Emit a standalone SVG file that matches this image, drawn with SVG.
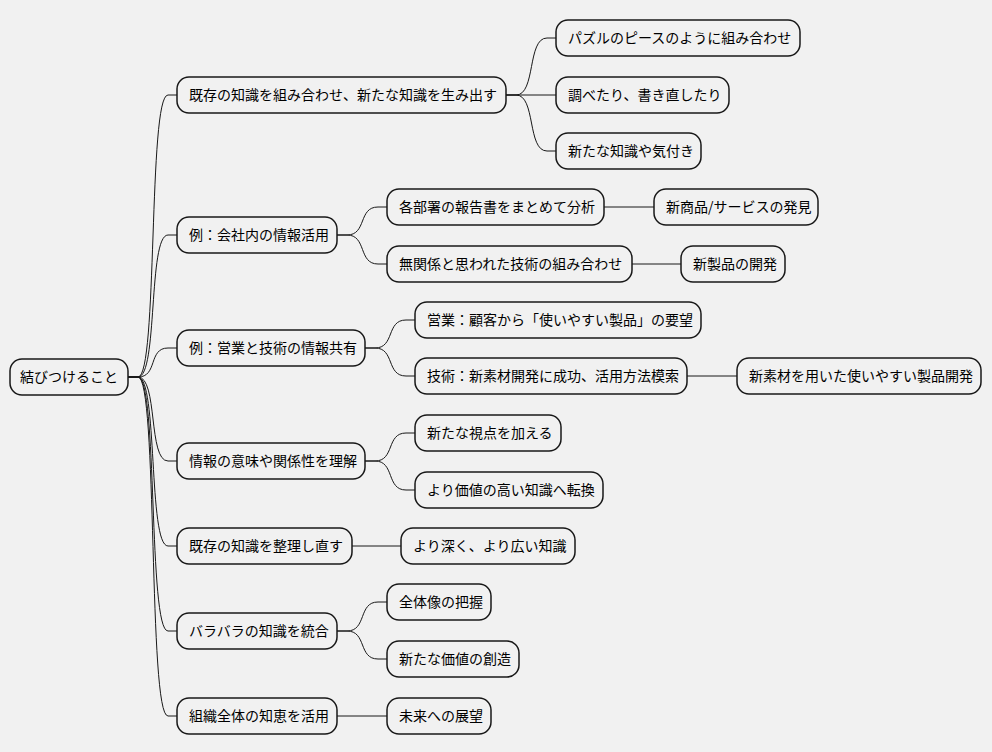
<svg xmlns="http://www.w3.org/2000/svg" width="992" height="752" viewBox="0 0 992 752">
<style>
rect{fill:#F1F1F1;stroke:#181818;stroke-width:1.5}
text{font-family:"Noto Sans CJK JP","Noto Sans",sans-serif;font-size:14px;fill:#000}
path{fill:none;stroke:#181818;stroke-width:1}
</style>
<rect width="992" height="752" fill="#fff" style="stroke:none"/>
<g id="connectors">
<path d="M128 377 L138 377 C158 377 148 95 168 95 L177 95"/>
<path d="M128 377 L138 377 C158 377 148 235 168 235 L177 235"/>
<path d="M128 377 L138 377 C158 377 148 348 168 348 L177 348"/>
<path d="M128 377 L138 377 C158 377 148 461 168 461 L177 461"/>
<path d="M128 377 L138 377 C158 377 148 546 168 546 L177 546"/>
<path d="M128 377 L138 377 C158 377 148 631 168 631 L177 631"/>
<path d="M128 377 L138 377 C158 377 148 716 168 716 L177 716"/>
<path d="M506 95 L516 95 C536 95 527 38 547 38 L556 38"/>
<path d="M506 95 L556 95"/>
<path d="M506 95 L516 95 C536 95 527 151 547 151 L556 151"/>
<path d="M337 235 L347 235 C367 235 358 207 378 207 L387 207"/>
<path d="M337 235 L347 235 C367 235 358 264 378 264 L387 264"/>
<path d="M604 207 L654 207"/>
<path d="M632 264 L681 264"/>
<path d="M365 348 L375 348 C395 348 386 320 406 320 L415 320"/>
<path d="M365 348 L375 348 C395 348 386 376 406 376 L415 376"/>
<path d="M687 376 L737 376"/>
<path d="M365 461 L375 461 C395 461 386 433 406 433 L415 433"/>
<path d="M365 461 L375 461 C395 461 386 490 406 490 L415 490"/>
<path d="M352 546 L401 546"/>
<path d="M337 631 L347 631 C367 631 358 602 378 602 L387 602"/>
<path d="M337 631 L347 631 C367 631 358 659 378 659 L387 659"/>
<path d="M337 716 L387 716"/>
</g>
<g id="root"><rect x="10" y="359" width="118" height="36" rx="12"/><text x="20" y="382">結びつけること</text></g>
<g id="n1"><rect x="177" y="77" width="329" height="36" rx="12"/><text x="189" y="100">既存の知識を組み合わせ、新たな知識を生み出す</text></g>
<g id="n2"><rect x="177" y="217" width="160" height="36" rx="12"/><text x="189" y="240">例：会社内の情報活用</text></g>
<g id="n3"><rect x="177" y="330" width="188" height="36" rx="12"/><text x="189" y="353">例：営業と技術の情報共有</text></g>
<g id="n4"><rect x="177" y="443" width="188" height="36" rx="12"/><text x="189" y="466">情報の意味や関係性を理解</text></g>
<g id="n5"><rect x="177" y="528" width="175" height="36" rx="12"/><text x="189" y="551">既存の知識を整理し直す</text></g>
<g id="n6"><rect x="177" y="613" width="160" height="36" rx="12"/><text x="189" y="636">バラバラの知識を統合</text></g>
<g id="n7"><rect x="177" y="698" width="160" height="36" rx="12"/><text x="189" y="721">組織全体の知恵を活用</text></g>
<g id="n1a"><rect x="556" y="20" width="244" height="36" rx="12"/><text x="568" y="43">パズルのピースのように組み合わせ</text></g>
<g id="n1b"><rect x="556" y="77" width="173" height="36" rx="12"/><text x="568" y="100">調べたり、書き直したり</text></g>
<g id="n1c"><rect x="556" y="133" width="145" height="36" rx="12"/><text x="568" y="156">新たな知識や気付き</text></g>
<g id="n2a"><rect x="387" y="189" width="217" height="36" rx="12"/><text x="399" y="212">各部署の報告書をまとめて分析</text></g>
<g id="n2a1"><rect x="654" y="189" width="164" height="36" rx="12"/><text x="666" y="212">新商品/サービスの発見</text></g>
<g id="n2b"><rect x="387" y="246" width="245" height="36" rx="12"/><text x="399" y="269">無関係と思われた技術の組み合わせ</text></g>
<g id="n2b1"><rect x="681" y="246" width="104" height="36" rx="12"/><text x="693" y="269">新製品の開発</text></g>
<g id="n3a"><rect x="415" y="302" width="286" height="36" rx="12"/><text x="427" y="325">営業：顧客から「使いやすい製品」の要望</text></g>
<g id="n3b"><rect x="415" y="358" width="272" height="36" rx="12"/><text x="427" y="381">技術：新素材開発に成功、活用方法模索</text></g>
<g id="n3b1"><rect x="737" y="358" width="244" height="36" rx="12"/><text x="749" y="381">新素材を用いた使いやすい製品開発</text></g>
<g id="n4a"><rect x="415" y="415" width="146" height="36" rx="12"/><text x="427" y="438">新たな視点を加える</text></g>
<g id="n4b"><rect x="415" y="472" width="188" height="36" rx="12"/><text x="427" y="495">より価値の高い知識へ転換</text></g>
<g id="n5a"><rect x="401" y="528" width="174" height="36" rx="12"/><text x="413" y="551">より深く、より広い知識</text></g>
<g id="n6a"><rect x="387" y="584" width="104" height="36" rx="12"/><text x="399" y="607">全体像の把握</text></g>
<g id="n6b"><rect x="387" y="641" width="132" height="36" rx="12"/><text x="399" y="664">新たな価値の創造</text></g>
<g id="n7a"><rect x="387" y="698" width="104" height="36" rx="12"/><text x="399" y="721">未来への展望</text></g>
</svg>
